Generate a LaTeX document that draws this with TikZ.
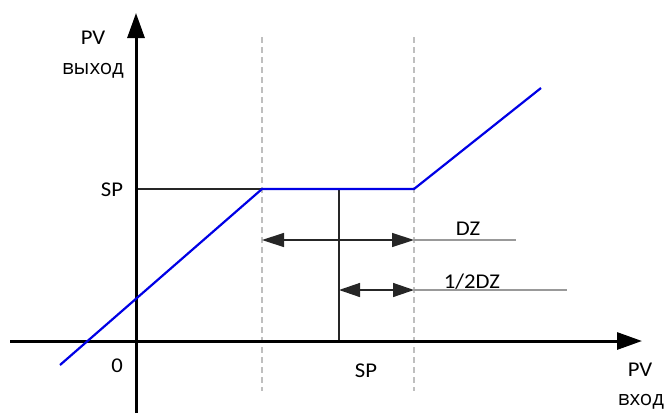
\documentclass[tikz,border=0pt]{standalone}
\usepackage{fontspec}
\setmainfont{Carlito}
\newfontfamily\cyr{Open Sans}
\usetikzlibrary{arrows.meta}
\newcommand{\WT}[1]{\scalebox{1.08}[1]{#1}}
\begin{document}
\begin{tikzpicture}[x=1pt,y=-1pt,
  axis/.style={line width=3pt,black,-{Triangle[length=25pt,width=17pt]}},
  curve/.style={line width=2.2pt,blue!90!black,line join=miter},
  thin/.style={line width=1.2pt,black!85},
  guide/.style={line width=1.1pt,black!25,dash pattern=on 6pt off 4pt},
  lead/.style={line width=1.1pt,black!40},
  dim/.style={line width=1.4pt,black!85,{Triangle[length=22pt,width=14pt]}-{Triangle[length=22pt,width=14pt]}},
  half/.style={line width=1.4pt,black!85,{Triangle[length=21pt,width=14pt]}-{Triangle[length=21pt,width=14pt]}},
  lbl/.style={anchor=base,inner sep=0pt,text=black,font=\fontsize{21}{25}\selectfont},
  clbl/.style={anchor=base,inner sep=0pt,text=black,font=\cyr\fontsize{20.5}{25}\selectfont}]
\useasboundingbox (0,0) rectangle (667,413);
% key points
\coordinate (xl) at (10,341);
\coordinate (xr) at (642,341);
\coordinate (yb) at (136,413);
\coordinate (yt) at (136,13);
\coordinate (b0) at (60,365);
\coordinate (b1) at (262,189);
\coordinate (b2) at (414,189);
\coordinate (b3) at (541,88);
\coordinate (spl) at (136,189);
\coordinate (spt) at (339,189);
\coordinate (spb) at (339,341);
\coordinate (g1t) at (262,37);
\coordinate (g1b) at (262,391);
\coordinate (g2t) at (414,37);
\coordinate (g2b) at (414,391);
\coordinate (dzl) at (262,240);
\coordinate (dzr) at (414,240);
\coordinate (dze) at (516,240);
\coordinate (hl) at (339,290);
\coordinate (hr) at (414,290);
\coordinate (he) at (567,290);
% guides
\draw[guide] (g1t) -- (g1b);
\draw[guide] (g2t) -- (g2b);
% SP lines
\draw[thin] (spl) -- (b1);
\draw[thin] (spt) -- (spb);
% dimension arrows
\draw[dim] (dzl) -- (dzr);
\draw[lead] (dzr) -- (dze);
\draw[half] (hl) -- (hr);
\draw[lead] (hr) -- (he);
% axes
\draw[axis] (xl) -- (xr);
\draw[axis] (yb) -- (yt);
% characteristic
\draw[curve] (b0) -- (b1) -- (b2) -- (b3);
% labels
\node[lbl] (pvy) at (93,44) {\WT{PV}};
\node[clbl] (vyh) at (93,74) {выход};
\node[lbl] (spy) at (112,196) {\WT{SP}};
\node[lbl] (zero) at (117,372) {\WT{0}};
\node[lbl] (spx) at (366,377) {\WT{SP}};
\node[lbl] (pvx) at (640,376) {\WT{PV}};
\node[clbl] (vh) at (641,405) {вход};
\node[lbl] (dz) at (468,235) {\WT{DZ}};
\node[lbl] (hdz) at (472,288) {\WT{1/2DZ}};
\end{tikzpicture}
\end{document}
